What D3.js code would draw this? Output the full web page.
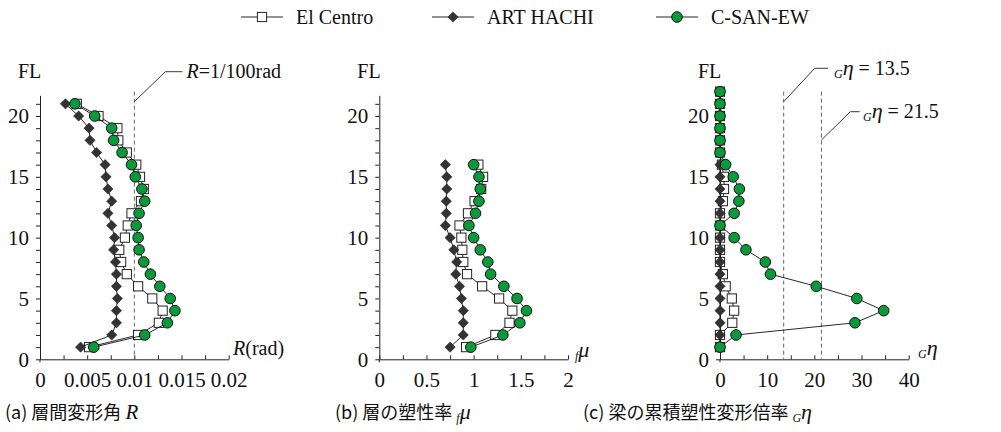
<!DOCTYPE html>
<html>
<head>
<meta charset="utf-8">
<script src="https://cdn.jsdelivr.net/npm/d3@7"></script>
<style>
  body { margin: 0; background: #fff; }
  svg { display: block; }
  svg text { font-family: "Liberation Serif", "Times New Roman", serif; }
</style>
</head>
<body>
<svg id="chart" width="1001" height="432"></svg>
<script>
// Series names
const seriesNames = ["El Centro", "ART HACHI", "C-SAN-EW"];

// (a) storey drift angle R [rad], floors 1..21
const floorsA = d3.range(1, 22);
const driftElCentro = [0.0052,0.0104,0.0126,0.0130,0.0119,0.0104,0.0092,0.0086,0.0084,0.0090,0.0093,0.0097,0.0107,0.0110,0.0106,0.0102,0.0092,0.0083,0.0082,0.0062,0.0039];
const driftArtHachi = [0.0043,0.0076,0.0081,0.0081,0.0082,0.0081,0.0081,0.0080,0.0078,0.0079,0.0076,0.0072,0.0076,0.0072,0.0070,0.0069,0.0060,0.0053,0.0052,0.0041,0.0027];
const driftCSan = [0.0057,0.0111,0.0135,0.0143,0.0138,0.0127,0.0117,0.0110,0.0105,0.0104,0.0102,0.0105,0.0111,0.0108,0.0101,0.0097,0.0087,0.0078,0.0076,0.0058,0.0037];

// (b) storey ductility factor, floors 1..16
const floorsB = d3.range(1, 17);
const muElCentro = [0.92,1.23,1.38,1.41,1.27,1.09,0.93,0.89,0.88,0.87,0.85,0.94,1.01,1.08,1.10,1.05];
const muArtHachi = [0.75,0.89,0.89,0.89,0.87,0.85,0.81,0.82,0.79,0.75,0.70,0.71,0.71,0.715,0.715,0.70];
const muCSan = [0.97,1.31,1.49,1.56,1.46,1.32,1.18,1.15,1.07,1.00,0.95,1.02,1.056,1.07,1.056,1.00];

// (c) cumulative plastic deformation ratio of beams, floors 1..22
const floorsC = d3.range(1, 23);
const floorsCArt = d3.range(1, 17);
const etaElCentro = [0,0,2.6,3.0,2.5,1.2,0.6,0,0,0,0,0,0.6,0.85,0.85,0.4,0,0,0,0,0,0];
const etaArtHachi = [0,0,0,0,0,0,0,0,0,0,0,0,0,0,0,0];
const etaCSan = [0,3.4,28.6,34.7,29.0,20.4,10.7,9.6,5.5,3.0,0,3.0,4.0,4.1,2.8,1.2,0,0,0,0,0,0];

// Axis ticks
const yTickValues = [0, 5, 10, 15, 20];
const xTicksA = [0, 0.005, 0.01, 0.015, 0.02];
const xTickLabelsA = ["0", "0.005", "0.01", "0.015", "0.02"];
const xTicksB = [0, 0.5, 1, 1.5, 2];
const xTickLabelsB = ["0", "0.5", "1", "1.5", "2"];
const xTicksC = [0, 10, 20, 30, 40];
const xTickLabelsC = ["0", "10", "20", "30", "40"];

// Reference lines
const refA = [0.01];
const refC = [13.5, 21.5];

const CJK = "Noto Sans CJK JP";

const svg = d3.select("#chart");
svg.append("rect").attr("width", 1001).attr("height", 432).attr("fill", "#fff");

const baseY = 359.3;
const perFloor = 12.165;
const plotW = 188.7;
const tickFont = 21;

const styles = [
  { shape: "square", fill: "#fff" },
  { shape: "diamond", fill: "#333" },
  { shape: "circle", fill: "#0a9a3a" }
];

function txt(sel, size) {
  return sel.attr("font-size", size).attr("fill", "#111");
}

function drawMarker(g, shape, fill) {
  if (shape === "square") {
    g.append("rect").attr("x", -4.6).attr("y", -4.6).attr("width", 9.2).attr("height", 9.2)
      .attr("fill", fill).attr("stroke", "#222").attr("stroke-width", 1);
  } else if (shape === "diamond") {
    g.append("path").attr("d", d3.symbol().type(d3.symbolSquare).size(52)())
      .attr("transform", "rotate(45)").attr("fill", fill).attr("stroke", "#222").attr("stroke-width", 0.6);
  } else {
    g.append("circle").attr("r", 5.3).attr("fill", fill).attr("stroke", "#111").attr("stroke-width", 1);
  }
}

function panel(cfg) {
  const x = d3.scaleLinear().domain([0, cfg.xMax]).range([cfg.left, cfg.left + plotW]);
  const y = d3.scaleLinear().domain([0, cfg.yMax]).range([baseY, baseY - cfg.yMax * perFloor]);
  const g = svg.append("g");

  // y axis: a tick at every floor, labels every 5
  const yAxis = d3.axisLeft(y)
    .tickValues(d3.range(0, Math.floor(cfg.yMax) + 1))
    .tickSizeInner(4).tickSizeOuter(0).tickPadding(7)
    .tickFormat(d => yTickValues.includes(d) ? String(d) : "");
  const ya = g.append("g").attr("transform", `translate(${cfg.left},0)`).call(yAxis);
  ya.attr("font-size", null).attr("font-family", null);
  txt(ya.selectAll("text"), tickFont).attr("dy", "0.33em");
  ya.selectAll("line,path").attr("stroke", "#222");

  // x axis: inward ticks at quarter steps, labels at majors
  const step = cfg.xTicks[1] / 2;
  const xAxis = d3.axisBottom(x)
    .tickValues(d3.range(0, 9).map(i => i * step))
    .tickSizeInner(-4).tickSizeOuter(0).tickPadding(13)
    .tickFormat((d, i) => i % 2 === 0 ? cfg.xLabels[i / 2] : "");
  const xa = g.append("g").attr("transform", `translate(0,${baseY})`).call(xAxis);
  xa.attr("font-size", null).attr("font-family", null);
  txt(xa.selectAll("text"), tickFont);
  xa.selectAll("line,path").attr("stroke", "#222");
  // short extension of the y axis below the x axis
  g.append("line").attr("x1", cfg.left).attr("x2", cfg.left).attr("y1", baseY).attr("y2", baseY + 3)
    .attr("stroke", "#222");

  // FL label
  txt(g.append("text"), 20).attr("x", cfg.left - 22).attr("y", 78).text("FL");

  // reference lines
  const yTop = baseY - 22 * perFloor;
  (cfg.refs || []).forEach(v => {
    g.append("line").attr("x1", x(v)).attr("x2", x(v)).attr("y1", yTop).attr("y2", baseY)
      .attr("stroke", "#666").attr("stroke-width", 1).attr("stroke-dasharray", "4,3");
  });

  // series
  cfg.series.forEach((s, si) => {
    const pts = s.values.map((v, i) => [x(v), y(s.floors[i])]);
    g.append("path").attr("d", d3.line()(pts)).attr("fill", "none")
      .attr("stroke", "#111").attr("stroke-width", 0.9);
    pts.forEach(p => {
      const m = g.append("g").attr("transform", `translate(${p[0]},${p[1]})`);
      drawMarker(m, styles[si].shape, styles[si].fill);
    });
  });
  return { x, y, g };
}

const pa = panel({ left: 40, xMax: 0.02, yMax: 21.7, xTicks: xTicksA, xLabels: xTickLabelsA, refs: refA,
  series: [
    { floors: floorsA, values: driftElCentro },
    { floors: floorsA, values: driftArtHachi },
    { floors: floorsA, values: driftCSan }
  ] });
const pb = panel({ left: 379.3, xMax: 2, yMax: 21.7, xTicks: xTicksB, xLabels: xTickLabelsB,
  series: [
    { floors: floorsB, values: muElCentro },
    { floors: floorsB, values: muArtHachi },
    { floors: floorsB, values: muCSan }
  ] });
const pc = panel({ left: 720, xMax: 40, yMax: 22.3, xTicks: xTicksC, xLabels: xTickLabelsC, refs: refC,
  series: [
    { floors: floorsC, values: etaElCentro },
    { floors: floorsCArt, values: etaArtHachi },
    { floors: floorsC, values: etaCSan }
  ] });

// Symbol with a small italic prefix subscript (fμ, Gη)
function subSymbol(t, sub, sym, symSize) {
  t.append("tspan").attr("font-size", 12).attr("font-style", "italic").attr("dy", 3).text(sub);
  t.append("tspan").attr("font-size", symSize).attr("font-style", "italic").attr("dy", -3).text(sym);
}

// Axis titles
const ta = txt(svg.append("text"), 20).attr("x", 233).attr("y", 355);
ta.append("tspan").attr("font-style", "italic").text("R");
ta.append("tspan").text("(rad)");

subSymbol(txt(svg.append("text"), 20).attr("x", 575).attr("y", 357), "f", "μ", 22);
subSymbol(txt(svg.append("text"), 20).attr("x", 918).attr("y", 355), "G", "η", 22);

// Reference-line call-outs
function leader(x0, y0, dx, dy, len) {
  svg.append("path").attr("d", `M${x0},${y0}L${x0 + dx},${y0 - dy}L${x0 + dx + len},${y0 - dy}`)
    .attr("fill", "none").attr("stroke", "#222").attr("stroke-width", 0.9);
}
leader(pa.x(refA[0]), 101.7, 31, 30, 17);
const la = txt(svg.append("text"), 20).attr("x", 186.5).attr("y", 78);
la.append("tspan").attr("font-style", "italic").text("R");
la.append("tspan").text("=1/100rad");

leader(pc.x(refC[0]), 101.7, 31, 33.4, 13.3);
const lc1 = txt(svg.append("text"), 20).attr("x", 834).attr("y", 75);
subSymbol(lc1, "G", "η", 22);
lc1.append("tspan").text(" = " + refC[0]);

leader(pc.x(refC[1]), 140, 29, 28.3, 9.3);
const lc2 = txt(svg.append("text"), 20).attr("x", 863).attr("y", 118);
subSymbol(lc2, "G", "η", 22);
lc2.append("tspan").text(" = " + refC[1]);

// Legend
const legendX = [262, 453, 677];
const legend = svg.append("g");
seriesNames.forEach((name, i) => {
  const cx = legendX[i];
  legend.append("line").attr("x1", cx - 21).attr("x2", cx + 21).attr("y1", 17).attr("y2", 17)
    .attr("stroke", "#111").attr("stroke-width", 0.9);
  const m = legend.append("g").attr("transform", `translate(${cx},17)`);
  drawMarker(m, styles[i].shape, styles[i].fill);
  txt(legend.append("text"), 20).attr("x", cx + 34).attr("y", 24).text(name);
});

// Captions
function caption(xPos, label, body, symSub, sym) {
  const t = svg.append("text").attr("x", xPos).attr("y", 419).attr("fill", "#111");
  t.append("tspan").style("font-family", CJK).attr("font-size", 18).text(label + " " + body + " ");
  if (symSub) {
    t.append("tspan").attr("font-size", 12).attr("font-style", "italic").attr("dy", 3).text(symSub);
    t.append("tspan").attr("font-size", 22).attr("font-style", "italic").attr("dy", -3).text(sym);
  } else {
    t.append("tspan").attr("font-size", 21).attr("font-style", "italic").text(sym);
  }
}
caption(5, "(a)", "層間変形角", null, "R");
caption(335, "(b)", "層の塑性率", "f", "μ");
caption(583, "(c)", "梁の累積塑性変形倍率", "G", "η");
</script>
</body>
</html>
